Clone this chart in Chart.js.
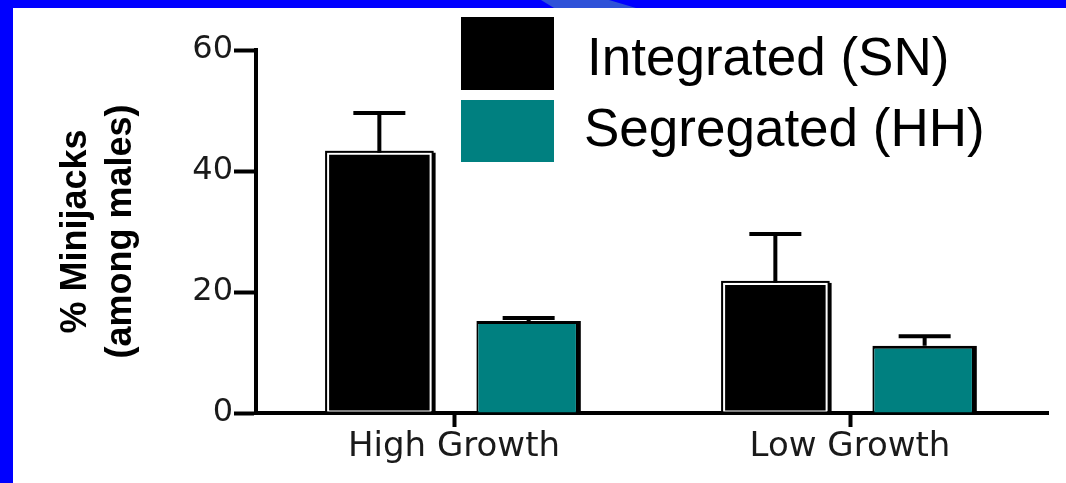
<!DOCTYPE html>
<html>
<head>
<meta charset="utf-8">
<script src="https://cdn.jsdelivr.net/npm/chart.js@4/dist/chart.umd.min.js"></script>
<style>
  html, body { margin: 0; padding: 0; }
  body { width: 1066px; height: 483px; background: #0000ff; position: relative; overflow: hidden; }
  #paper { position: absolute; left: 13px; top: 8px; right: 0; bottom: 0; background: #fff; }
  #stripe { position: absolute; left: 536px; top: 0; width: 104px; height: 8px; background: #2f52d8;
            clip-path: polygon(5px 0, 73px 0, 100px 8px, 18px 8px); }
  #nba { position: absolute; left: 0; top: 0; }
  .key { position: absolute; left: 461px; width: 93px; }
  .key-label { position: absolute; font-family: "Liberation Sans", Arial, sans-serif; font-size: 53px;
               line-height: 53px; color: #000; white-space: nowrap; }
</style>
</head>
<body>
<div id="paper"></div>
<div id="stripe"></div>
<canvas id="nba" width="1066" height="483"></canvas>
<div id="legend"></div>
<script>
var categories = ['High Growth', 'Low Growth'];
var series_names = ['Integrated (SN)', 'Segregated (HH)'];
var series_colors = ['#000000', '#008080'];
var integrated = [43, 21.5];
var integrated_err = [6.6, 8.1];
var segregated = [15.2, 11.1];
var segregated_err = [0.5, 1.6];
var y_ticks = [0, 20, 40, 60];

// legend boxes sit over the top right of the plot, like the slide
var legend_boxes = [
  { top: 17, height: 73, labelTop: 30, labelLeft: 587 },
  { top: 100, height: 62, labelTop: 101, labelLeft: 584 }
];
var legend = document.getElementById('legend');
series_names.forEach(function(name, i) {
  var box = document.createElement('div');
  box.className = 'key';
  box.style.top = legend_boxes[i].top + 'px';
  box.style.height = legend_boxes[i].height + 'px';
  box.style.background = series_colors[i];
  legend.appendChild(box);
  var label = document.createElement('div');
  label.className = 'key-label';
  label.style.top = legend_boxes[i].labelTop + 'px';
  label.style.left = legend_boxes[i].labelLeft + 'px';
  label.textContent = name;
  legend.appendChild(label);
});

// upward-only error bars, plus the dark outline around the black bars
const errorBars = {
  id: 'errorBars',
  afterDatasetsDraw(chart) {
    const ctx = chart.ctx;
    const y = chart.scales.y;
    ctx.save();
    ctx.strokeStyle = '#000';
    ctx.lineCap = 'butt';
    chart.data.datasets.forEach(function(ds, i) {
      const meta = chart.getDatasetMeta(i);
      meta.data.forEach(function(bar, j) {
        if (i === 0) {
          ctx.lineWidth = 2;
          ctx.strokeRect(bar.x - bar.width / 2 - 1, bar.y - 1, bar.width + 2, bar.base - bar.y + 1);
          ctx.lineWidth = 3;
          ctx.beginPath();
          ctx.moveTo(bar.x + bar.width / 2 + 2.5, bar.y);
          ctx.lineTo(bar.x + bar.width / 2 + 2.5, bar.base);
          ctx.stroke();
        }
        const top = y.getPixelForValue(ds.data[j] + ds.errors[j]);
        ctx.lineWidth = 4;
        ctx.beginPath();
        ctx.moveTo(bar.x, bar.y);
        ctx.lineTo(bar.x, top);
        ctx.moveTo(bar.x - 26, top);
        ctx.lineTo(bar.x + 26, top);
        ctx.stroke();
      });
    });
    ctx.restore();
  }
};

const chart = new Chart(document.getElementById('nba'), {
  type: 'bar',
  data: {
    labels: categories,
    datasets: [
      {
        label: series_names[0],
        data: integrated,
        errors: integrated_err,
        backgroundColor: series_colors[0],
        borderColor: '#ffffff',
        borderWidth: 2,
        borderSkipped: false
      },
      {
        label: series_names[1],
        data: segregated,
        errors: segregated_err,
        backgroundColor: series_colors[1],
        borderColor: '#000000',
        borderWidth: { left: 2, top: 3, right: 5, bottom: 0 },
        borderSkipped: false
      }
    ]
  },
  options: {
    responsive: false,
    animation: false,
    categoryPercentage: 0.754,
    barPercentage: 0.7,
    layout: { padding: { top: 50, right: 18, bottom: 0, left: 0 } },
    plugins: {
      legend: { display: false },
      tooltip: { enabled: false }
    },
    scales: {
      x: {
        afterFit: function(scale) { scale.height = 70; },
        border: { color: '#000', width: 4 },
        grid: {
          offset: false,
          drawOnChartArea: false,
          tickLength: 14,
          tickWidth: 4,
          tickColor: '#000'
        },
        ticks: {
          padding: 0,
          color: '#1a1a1a',
          font: { family: '"DejaVu Sans"', size: 34 }
        }
      },
      y: {
        min: 0,
        max: 60,
        afterFit: function(scale) { scale.width = 256; },
        afterBuildTicks: function(scale) { scale.ticks = y_ticks.map(v => ({ value: v })); },
        border: { color: '#000', width: 4 },
        grid: {
          drawOnChartArea: false,
          tickLength: 22,
          tickWidth: 4,
          tickColor: '#000'
        },
        ticks: {
          padding: 1,
          color: '#1a1a1a',
          font: { family: '"DejaVu Sans"', size: 32 }
        },
        title: {
          display: true,
          text: ['% Minijacks', '(among males)'],
          color: '#000',
          padding: { top: 54, bottom: 0 },
          font: { family: '"Liberation Sans", Arial, sans-serif', size: 36, weight: 'bold', lineHeight: 1.25 }
        }
      }
    }
  },
  plugins: [errorBars]
});
</script>
</body>
</html>
